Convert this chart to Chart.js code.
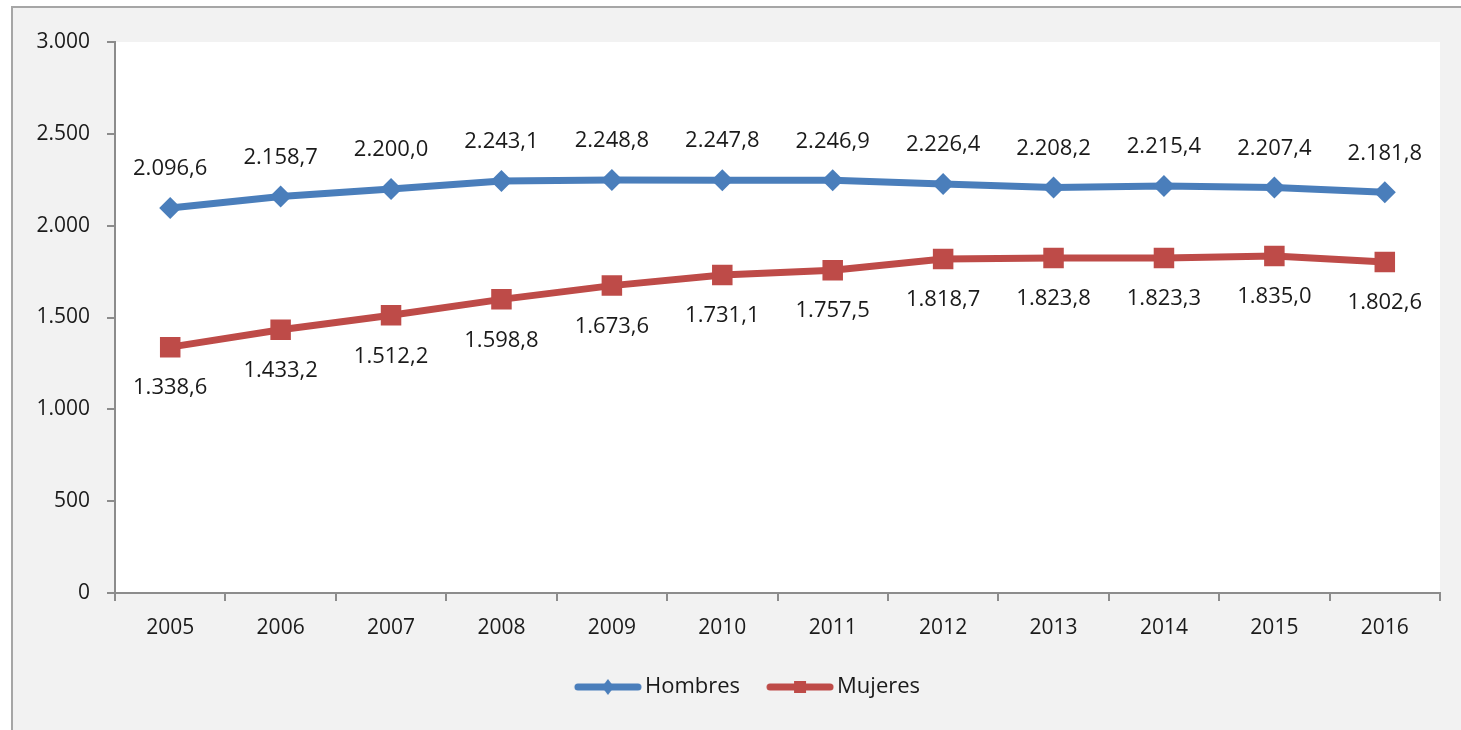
<!DOCTYPE html>
<html lang="es">
<head>
  <meta charset="UTF-8" />
  <title>Hombres y Mujeres 2005-2016</title>
  <script src="https://cdn.jsdelivr.net/npm/chart.js"></script>
  <style>
    html, body { margin: 0; padding: 0; background: #ffffff; }
    #marco {
      position: absolute;
      left: 11px; top: 6px;
      width: 1450px; height: 724px;
      background: #f2f2f2;
      border-left: 2px solid #a6a6a6;
      border-top: 2px solid #a6a6a6;
    }
    #contenedor { position: absolute; left: 0; top: 0; width: 1461px; height: 730px; }
  </style>
</head>
<body>
<div id="marco"></div>
<div id="contenedor"><canvas id="grafico" width="1461" height="730"></canvas></div>

<script>
  const anios = ['2005', '2006', '2007', '2008', '2009', '2010', '2011', '2012', '2013', '2014', '2015', '2016'];
  const hombres = [2096.6, 2158.7, 2200.0, 2243.1, 2248.8, 2247.8, 2246.9, 2226.4, 2208.2, 2215.4, 2207.4, 2181.8];
  const mujeres = [1338.6, 1433.2, 1512.2, 1598.8, 1673.6, 1731.1, 1757.5, 1818.7, 1823.8, 1823.3, 1835.0, 1802.6];
  const ticksY = [0, 500, 1000, 1500, 2000, 2500, 3000];

  const AZUL = '#4a7ebb';
  const ROJO = '#be4b48';
  const fuente = "'Open Sans', 'Noto Sans', sans-serif";

  // separador de miles "." y decimal ","
  function formato(v, dec) {
    const partes = v.toFixed(dec).split('.');
    const entero = partes[0].replace(/\B(?=(\d{3})+(?!\d))/g, '.');
    return partes[1] ? entero + ',' + partes[1] : entero;
  }

  // muestra de leyenda: línea con marcador (la imagen se centra en la caja de 60px)
  function muestra(color, forma) {
    const c = document.createElement('canvas');
    c.width = 76; c.height = 22;
    const g = c.getContext('2d');
    g.strokeStyle = color; g.lineWidth = 7; g.lineCap = 'round';
    g.beginPath(); g.moveTo(12, 11); g.lineTo(72, 11); g.stroke();
    g.fillStyle = color;
    if (forma === 'rombo') {
      g.beginPath(); g.moveTo(42, 3); g.lineTo(48, 11); g.lineTo(42, 19); g.lineTo(36, 11); g.closePath(); g.fill();
    } else {
      g.fillRect(36, 5, 12, 12);
    }
    return c;
  }

  const fondoArea = {
    id: 'fondoArea',
    beforeDraw(chart) {
      const { ctx, chartArea: a } = chart;
      ctx.save();
      ctx.fillStyle = '#ffffff';
      ctx.fillRect(a.left, a.top, a.right - a.left, a.bottom - a.top);
      ctx.restore();
    }
  };

  // la leyenda del original está algo a la derecha del centro
  const moverLeyenda = {
    id: 'moverLeyenda',
    afterLayout(chart) {
      chart.legend.left += 27;
      chart.legend.right += 27;
    }
  };

  const etiquetas = {
    id: 'etiquetas',
    afterDatasetsDraw(chart) {
      const ctx = chart.ctx;
      ctx.save();
      ctx.font = '22px ' + fuente;
      ctx.fillStyle = '#1a1a1a';
      ctx.textAlign = 'center';
      ctx.textBaseline = 'middle';
      chart.data.datasets.forEach((ds, i) => {
        const desp = i === 0 ? -39 : 41;
        chart.getDatasetMeta(i).data.forEach((p, j) => {
          ctx.fillText(formato(ds.data[j], 1), p.x, p.y + desp);
        });
      });
      ctx.restore();
    }
  };

  const muestras = [muestra(AZUL, 'rombo'), muestra(ROJO, 'cuadro')];

  new Chart(document.getElementById('grafico'), {
    type: 'line',
    data: {
      labels: anios,
      datasets: [{
        label: 'Hombres',
        data: hombres,
        borderColor: AZUL,
        backgroundColor: AZUL,
        borderWidth: 7,
        pointStyle: 'rectRot',
        pointRadius: 11,
        pointHoverRadius: 11,
        pointBorderWidth: 0,
        tension: 0
      }, {
        label: 'Mujeres',
        data: mujeres,
        borderColor: ROJO,
        backgroundColor: ROJO,
        borderWidth: 7,
        pointStyle: 'rect',
        pointRadius: 14.5,
        pointHoverRadius: 14.5,
        pointBorderWidth: 0,
        tension: 0
      }]
    },
    options: {
      responsive: false,
      animation: false,
      layout: { padding: { left: 0, right: 21, top: 42, bottom: 22 } },
      plugins: {
        tooltip: { enabled: false },
        legend: {
          position: 'bottom',
          labels: {
            usePointStyle: true,
            pointStyleWidth: 60,
            boxHeight: 22,
            padding: 26,
            color: '#1a1a1a',
            font: { family: fuente, size: 22 },
            generateLabels(chart) {
              const items = Chart.defaults.plugins.legend.labels.generateLabels(chart);
              items.forEach((it, i) => { it.pointStyle = muestras[i]; });
              return items;
            }
          }
        }
      },
      scales: {
        x: {
          offset: true,
          afterFit(s) { s.height = 57; },
          grid: { offset: true, drawOnChartArea: false, drawTicks: true, tickLength: 8, color: '#8c8c8c', lineWidth: 2 },
          border: { color: '#8c8c8c', width: 2 },
          ticks: { color: '#1a1a1a', padding: 14, font: { family: fuente, size: 21 } }
        },
        y: {
          min: 0,
          max: 3000,
          afterFit(s) { s.width = 115; },
          afterBuildTicks(s) { s.ticks = ticksY.map(v => ({ value: v })); },
          grid: { drawOnChartArea: false, drawTicks: true, tickLength: 8, color: '#8c8c8c', lineWidth: 2 },
          border: { color: '#8c8c8c', width: 2 },
          ticks: {
            color: '#1a1a1a',
            padding: 17,
            font: { family: fuente, size: 21 },
            callback: v => formato(v, 0)
          }
        }
      }
    },
    plugins: [fondoArea, moverLeyenda, etiquetas]
  });
</script>
</body>
</html>
